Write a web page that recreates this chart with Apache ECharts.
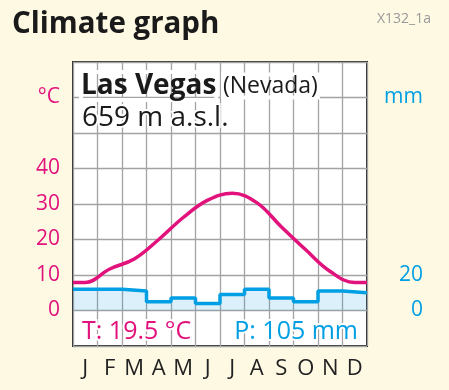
<!DOCTYPE html>
<html>
<head>
<meta charset="utf-8">
<script src="https://cdn.jsdelivr.net/npm/echarts@6/dist/echarts.min.js"></script>
<style>
html,body{margin:0;padding:0;background:#fdf9e3;}
#chart{width:449px;height:390px;}
</style>
</head>
<body>
<div id="chart"></div>
<script>
// ---- data ----
var months = ['J','F','M','A','M','J','J','A','S','O','N','D'];
var temperature = [7.9, 11.7, 14.5, 20.0, 26.2, 31.1, 33.0, 30.4, 23.6, 17.1, 11.0, 7.9]; // °C
var precipitation = [12, 12, 11, 5, 7, 4, 9, 12, 7, 5, 11, 10]; // mm
var tempTicks = [0, 10, 20, 30, 40];
var precTicks = [0, 20];
var title = 'Climate graph';
var code = 'X132_1a';
var place = 'Las Vegas';
var region = '(Nevada)';
var elevation = '659 m a.s.l.';
var tSummary = 'T: 19.5 °C';
var pSummary = 'P: 105 mm';

var MAGENTA = '#e2127c';
var BLUE = '#009fe3';
var FONT = '"Open Sans", "Noto Sans", sans-serif';

// series data built from arrays
var edge = (temperature[0] + temperature[11]) / 2;
var tempData = [[0, edge]];
temperature.forEach(function (v, i) { tempData.push([i + 0.5, v]); });
tempData.push([12, edge]);
var precData = precipitation.map(function (v, i) { return [i, v]; });
precData.push([12, precipitation[11]]);

var chart = echarts.init(document.getElementById('chart'), null, {renderer: 'canvas'});

chart.setOption({
  backgroundColor: '#fdf9e3',
  animation: false,
  grid: {left: 73, right: 82, top: 62, bottom: 44, show: true, backgroundColor: '#fff', borderColor: '#2b2b2b', borderWidth: 2, z: 0},
  xAxis: [{
    type: 'value', min: 0, max: 12, interval: 1,
    axisLine: {show: false}, axisTick: {show: false}, axisLabel: {show: false},
    splitLine: {show: true, lineStyle: {color: '#a3a3a3', width: 1.3}}
  }, {
    type: 'category', data: months, position: 'bottom', boundaryGap: true,
    axisLine: {show: false}, axisTick: {show: false}, splitLine: {show: false},
    axisLabel: {color: '#222', fontSize: 22, fontFamily: FONT, margin: 12, interval: 0}
  }],
  yAxis: [{
    type: 'value', min: -10, max: 70, interval: 10, position: 'left',
    axisLine: {show: false}, axisTick: {show: false},
    splitLine: {show: true, lineStyle: {color: '#a3a3a3', width: 1.3}},
    axisLabel: {color: MAGENTA, fontSize: 21, fontFamily: FONT, margin: 13,
      formatter: function (v) { if (v === 60) return '°C'; return tempTicks.indexOf(v) >= 0 ? String(v) : ''; }}
  }, {
    type: 'value', min: -20, max: 140, interval: 20, position: 'right',
    axisLine: {show: false}, axisTick: {show: false}, splitLine: {show: false},
    axisLabel: {color: BLUE, fontSize: 21, fontFamily: FONT, margin: 56, align: 'right',
      formatter: function (v) { if (v === 120) return 'mm'; return precTicks.indexOf(v) >= 0 ? String(v) : ''; }}
  }],
  series: [{
    type: 'line', name: 'Precipitation', xAxisIndex: 0, yAxisIndex: 1,
    data: precData, step: 'end', symbol: 'none',
    lineStyle: {color: BLUE, width: 3.5},
    areaStyle: {color: 'rgba(0,150,225,0.2)'}, z: 2
  }, {
    type: 'line', name: 'Temperature', xAxisIndex: 0, yAxisIndex: 0,
    data: tempData, smooth: 0.4, symbol: 'none',
    lineStyle: {color: MAGENTA, width: 3.5}, z: 3
  }],
  graphic: [
    {type: 'text', left: 12, top: 10, style: {text: title, font: 'bold 29.5px ' + FONT, fill: '#1a1a1a'}},
    {type: 'text', right: 18, top: 12, style: {text: code, font: '14px ' + FONT, fill: '#9a9a9a'}},
    {type: 'text', left: 79, top: 70, z: 100, style: {
      text: '{b|' + place + '}  {r|' + region + '}',
      rich: {
        b: {font: 'bold 28px ' + FONT, fill: '#1a1a1a', textBorderColor: '#fff', textBorderWidth: 4},
        r: {font: '23px ' + FONT, fill: '#1a1a1a', textBorderColor: '#fff', textBorderWidth: 4}
      }}},
    {type: 'text', left: 80, top: 102, z: 100, style: {text: elevation, font: '28px ' + FONT, fill: '#1a1a1a', stroke: '#fff', lineWidth: 4}},
    {type: 'text', left: 80, top: 317, z: 100, style: {text: tSummary, font: '500 25px ' + FONT, fill: MAGENTA, stroke: '#fff', lineWidth: 4}},
    {type: 'text', right: 89, top: 317, z: 100, style: {text: pSummary, font: '500 25px ' + FONT, fill: BLUE, stroke: '#fff', lineWidth: 4}}
  ]
});
</script>
</body>
</html>
